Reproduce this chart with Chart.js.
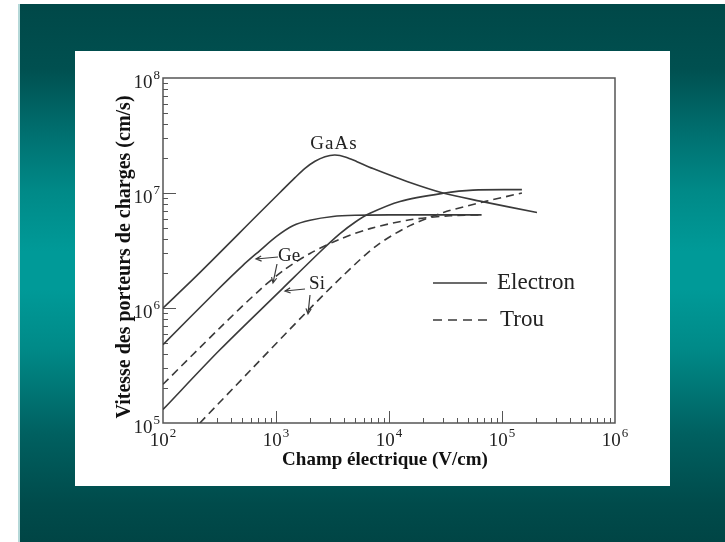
<!DOCTYPE html>
<html>
<head>
<meta charset="utf-8">
<script src="https://cdn.jsdelivr.net/npm/chart.js@4.4.1/dist/chart.umd.min.js"></script>
<style>
    html, body { margin: 0; padding: 0; background: #fff; }
    body { width: 725px; height: 542px; position: relative; overflow: hidden; }
    .slide {
        position: absolute; left: 18px; top: 4px; width: 707px; height: 538px;
        box-sizing: border-box; border-left: 2px solid #b5d8d8;
        background: linear-gradient(to bottom, #004848 0%, #005050 12%, #007272 25%, #008a88 35%,
            #009a98 46%, #009a98 53%, #008a88 64%, #006060 80%, #004b4b 93%, #004545 100%);
    }
    .panel { position: absolute; left: 75px; top: 51px; width: 595px; height: 435px; background: #fff; }
</style>
</head>
<body>
<div class="slide"></div>
<div class="panel"><canvas id="chart" width="595" height="435"></canvas></div>
<script>
    'use strict';

    // tick decades
    const fieldTicks = [1e2, 1e3, 1e4, 1e5, 1e6];
    const speedTicks = [1e5, 1e6, 1e7, 1e8];

    // electrons (solid)
    const fieldGaAsE = [100, 200, 720, 1085, 1473, 1805, 2214, 2714, 3327, 4165, 5211, 7210, 14430, 30060, 63870, 204000];
    const speedGaAsE = [1.0e6, 1.92e6, 6.76e6, 1.01e7, 1.36e7, 1.64e7, 1.89e7, 2.07e7, 2.14e7, 2.05e7, 1.87e7, 1.63e7, 1.26e7, 1.0e7, 8.5e6, 6.76e6];

    const fieldGeE = [100, 300, 510, 720, 1010, 1410, 2000, 3190, 5000, 10000, 30000, 66000];
    const speedGeE = [4.8e5, 1.42e6, 2.35e6, 3.16e6, 4.2e6, 5.2e6, 5.8e6, 6.25e6, 6.4e6, 6.45e6, 6.45e6, 6.45e6];

    const fieldSiE = [100, 319, 1153, 2449, 3681, 5000, 6790, 12510, 30060, 55350, 150000];
    const speedSiE = [1.31e5, 4.33e5, 1.49e6, 3.07e6, 4.43e6, 5.57e6, 6.66e6, 8.44e6, 9.94e6, 1.06e7, 1.07e7];

    // holes (dashed)
    const fieldGeH = [100, 319, 721, 1201, 2000, 3681, 6790, 15350, 34670, 65170];
    const speedGeH = [2.17e5, 6.72e5, 1.44e6, 2.17e6, 2.98e6, 3.97e6, 4.9e6, 5.85e6, 6.34e6, 6.46e6];

    const fieldSiH = [212, 600, 1870, 3940, 7790, 15300, 30300, 73300, 150000];
    const speedSiH = [1.0e5, 2.9e5, 9.25e5, 1.92e6, 3.49e6, 5.2e6, 6.77e6, 8.5e6, 1.0e7];

    const serif = '"Liberation Serif", "Times New Roman", serif';
    const ink = '#3a3a3a';

    function points(xs, ys) {
        return xs.map((v, i) => ({x: v, y: ys[i]}));
    }

    function curve(label, xs, ys, dashed) {
        return {
            label: label,
            data: points(xs, ys),
            showLine: true,
            borderColor: ink,
            borderWidth: 1.6,
            borderDash: dashed ? [8, 5] : [],
            pointRadius: 0,
            tension: 0.3,
            fill: false
        };
    }

    // "10" with the exponent raised
    function drawPower(ctx, value, x, baseY, align, size) {
        const exp = String(Math.round(Math.log10(value)));
        const supSize = Math.round(size * 0.68);
        ctx.font = size + 'px ' + serif;
        const wb = ctx.measureText('10').width;
        ctx.font = supSize + 'px ' + serif;
        const ws = ctx.measureText(exp).width;
        const total = wb + 1 + ws;
        const x0 = align === 'right' ? x - total : x - total / 2;
        ctx.textAlign = 'left';
        ctx.textBaseline = 'alphabetic';
        ctx.fillStyle = '#222';
        ctx.font = size + 'px ' + serif;
        ctx.fillText('10', x0, baseY);
        ctx.font = supSize + 'px ' + serif;
        ctx.fillText(exp, x0 + wb + 1, baseY - size * 0.45);
    }

    function arrow(ctx, x1, y1, x2, y2) {
        const ang = Math.atan2(y2 - y1, x2 - x1);
        const h = 6;
        ctx.beginPath();
        ctx.moveTo(x1, y1);
        ctx.lineTo(x2, y2);
        ctx.moveTo(x2 - h * Math.cos(ang - 0.45), y2 - h * Math.sin(ang - 0.45));
        ctx.lineTo(x2, y2);
        ctx.lineTo(x2 - h * Math.cos(ang + 0.45), y2 - h * Math.sin(ang + 0.45));
        ctx.stroke();
    }

    // frame, inner ticks, tick labels
    const frame = {
        id: 'frame',
        beforeDatasetsDraw(chart) {
            const {ctx, chartArea: a, scales: {x, y}} = chart;
            ctx.save();
            ctx.strokeStyle = '#555';
            ctx.lineWidth = 1.5;
            ctx.strokeRect(a.left, a.top, a.right - a.left, a.bottom - a.top);

            ctx.lineWidth = 1;
            ctx.beginPath();
            for (let d = 2; d < 6; d++) {
                for (let m = 1; m < 10; m++) {
                    const v = m * Math.pow(10, d);
                    if (v <= x.min) continue;
                    const px = Math.round(x.getPixelForValue(v)) + 0.5;
                    const len = m === 1 ? 12 : 5;
                    ctx.moveTo(px, a.bottom);
                    ctx.lineTo(px, a.bottom - len);
                }
            }
            for (let d = 5; d < 8; d++) {
                for (let m = 1; m < 10; m++) {
                    const v = m * Math.pow(10, d);
                    if (v <= y.min) continue;
                    const py = Math.round(y.getPixelForValue(v)) + 0.5;
                    const len = m === 1 ? 13 : 5;
                    ctx.moveTo(a.left, py);
                    ctx.lineTo(a.left + len, py);
                }
            }
            ctx.stroke();

            y.ticks.forEach(t => drawPower(ctx, t.value, a.left - 3, y.getPixelForValue(t.value) + 10, 'right', 19));
            x.ticks.forEach(t => drawPower(ctx, t.value, x.getPixelForValue(t.value), a.bottom + 23, 'center', 19));
            ctx.restore();
        }
    };

    // axis titles, curve names and key
    const notes = {
        id: 'notes',
        afterDraw(chart) {
            const {ctx, chartArea: a} = chart;
            const L = a.left, T = a.top;
            ctx.save();
            ctx.fillStyle = '#111';
            ctx.textAlign = 'center';
            ctx.textBaseline = 'middle';

            ctx.font = 'bold 19px ' + serif;
            ctx.fillText('Champ électrique (V/cm)', 310, 409, 213);

            ctx.save();
            ctx.translate(50, 206);
            ctx.rotate(-Math.PI / 2);
            ctx.font = 'bold 20px ' + serif;
            ctx.fillText('Vitesse des porteurs de charges (cm/s)', 0, 0, 333);
            ctx.restore();

            ctx.fillStyle = '#222';
            ctx.font = '19px ' + serif;
            ctx.letterSpacing = '1px';
            ctx.fillText('GaAs', L + 171, T + 66);
            ctx.letterSpacing = '0px';
            ctx.fillText('Ge', L + 126, T + 178);
            ctx.fillText('Si', L + 154, T + 206);

            ctx.strokeStyle = ink;
            ctx.lineWidth = 1.2;
            arrow(ctx, L + 115, T + 179, L + 93, T + 181);
            arrow(ctx, L + 114, T + 186, L + 110, T + 205);
            arrow(ctx, L + 142, T + 211, L + 122, T + 213);
            arrow(ctx, L + 147, T + 217, L + 145, T + 236);

            // key
            ctx.lineWidth = 1.6;
            ctx.beginPath();
            ctx.moveTo(L + 270, T + 205);
            ctx.lineTo(L + 324, T + 205);
            ctx.stroke();
            ctx.setLineDash([9, 6]);
            ctx.beginPath();
            ctx.moveTo(L + 270, T + 242);
            ctx.lineTo(L + 324, T + 242);
            ctx.stroke();
            ctx.setLineDash([]);

            ctx.textAlign = 'left';
            ctx.font = '23px ' + serif;
            ctx.fillText('Electron', L + 334, T + 205);
            ctx.fillText('Trou', L + 337, T + 242);
            ctx.restore();
        }
    };

    new Chart(document.getElementById('chart').getContext('2d'), {
        type: 'scatter',
        data: {
            datasets: [
                curve('GaAs électrons', fieldGaAsE, speedGaAsE, false),
                curve('Ge électrons', fieldGeE, speedGeE, false),
                curve('Si électrons', fieldSiE, speedSiE, false),
                curve('Ge trous', fieldGeH, speedGeH, true),
                curve('Si trous', fieldSiH, speedSiH, true)
            ]
        },
        options: {
            responsive: false,
            animation: false,
            layout: {padding: {top: 27, right: 55, left: 0, bottom: 0}},
            plugins: {
                legend: {display: false},
                tooltip: {enabled: false}
            },
            scales: {
                x: {
                    type: 'logarithmic',
                    min: 1e2,
                    max: 1e6,
                    grid: {display: false, drawTicks: false},
                    border: {display: false},
                    ticks: {display: false},
                    afterBuildTicks: scale => { scale.ticks = fieldTicks.map(v => ({value: v})); },
                    afterFit: scale => { scale.height = 63; }
                },
                y: {
                    type: 'logarithmic',
                    min: 1e5,
                    max: 1e8,
                    grid: {display: false, drawTicks: false},
                    border: {display: false},
                    ticks: {display: false},
                    afterBuildTicks: scale => { scale.ticks = speedTicks.map(v => ({value: v})); },
                    afterFit: scale => { scale.width = 88; }
                }
            }
        },
        plugins: [frame, notes]
    });
</script>
</body>
</html>
